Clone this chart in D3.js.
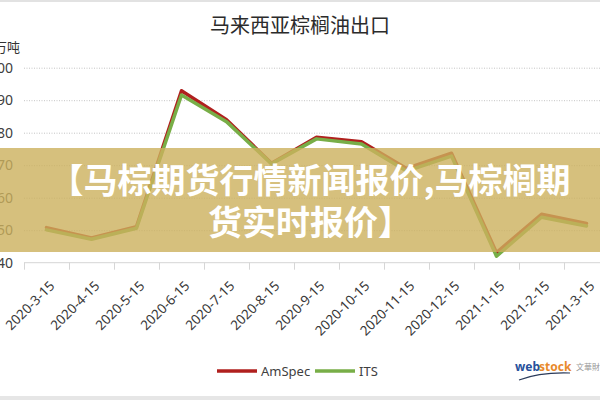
<!DOCTYPE html>
<html>
<head>
<meta charset="utf-8">
<script src="https://cdnjs.cloudflare.com/ajax/libs/d3/7.8.5/d3.min.js"></script>
<style>
  html, body { margin: 0; padding: 0; background: #fff; }
  svg { display: block; }
</style>
</head>
<body>
<svg id="chart" width="600" height="400"></svg>
<script>
const categories = ["2020-3-15","2020-4-15","2020-5-15","2020-6-15","2020-7-15","2020-8-15","2020-9-15","2020-10-15","2020-11-15","2020-12-15","2021-1-15","2021-2-15","2021-3-15"];
const amspec = [50.8, 47.6, 51.1, 92.9, 84.0, 70.6, 78.6, 77.2, 69.0, 73.7, 43.1, 54.9, 52.1];
const its    = [50.1, 47.2, 50.6, 91.6, 83.4, 70.4, 78.1, 76.5, 68.2, 72.8, 42.0, 54.0, 51.3];
const yTicks = [40, 50, 60, 70, 80, 90, 100];
const seriesNames = ["AmSpec", "ITS"];
const title = "马来西亚棕榈油出口";
const unit = "万吨";
const bannerLines = ["【马棕期货行情新闻报价,马棕榈期", "货实时报价】"];

const colors = {AmSpec: "#b0201e", ITS: "#78ae47"};
const svg = d3.select("#chart");
const font = "'Noto Sans', 'Liberation Sans', sans-serif";
const cjk = "'Noto Sans CJK SC', sans-serif";

const x0 = 24, bandW = 45;
const x = d3.scaleBand().domain(categories).range([x0, x0 + bandW * categories.length]).paddingInner(0).paddingOuter(0);
const xb = d3.scaleLinear().domain([0, categories.length]).range([x0, x0 + bandW * categories.length]);
const y = d3.scaleLinear().domain([40, 100]).range([262.7, 67.7]);

// frame lines
svg.append("rect").attr("x", 0).attr("y", 0).attr("width", 600).attr("height", 2).attr("fill", "#e2e2e2");
svg.append("rect").attr("x", 0).attr("y", 396).attr("width", 600).attr("height", 4).attr("fill", "#e6e6e6");

// title
svg.append("text").attr("x", 300).attr("y", 33).attr("text-anchor", "middle")
  .attr("font-family", cjk).attr("font-size", 20).attr("fill", "#2b2b2b").text(title);

// unit
svg.append("text").attr("x", 20).attr("y", 52).attr("text-anchor", "end")
  .attr("font-family", cjk).attr("font-size", 13).attr("fill", "#333").text(unit);

// gridlines
const grid = svg.append("g").attr("transform", `translate(${x0},0)`)
  .call(d3.axisLeft(y).tickValues(yTicks.filter(v => v > 40)).tickSize(-(600 - x0)).tickFormat(""));
grid.select(".domain").remove();
grid.selectAll("line").attr("stroke", "#c4c4c4").attr("stroke-dasharray", "1,1.5").attr("stroke-width", 1);

// y axis labels
const yAxis = svg.append("g").attr("transform", `translate(${x0},0)`)
  .call(d3.axisLeft(y).tickValues(yTicks).tickSize(0).tickPadding(11));
yAxis.select(".domain").remove();
yAxis.selectAll("text").attr("font-family", font).attr("font-size", 14).attr("fill", "#404040");

// x axis line + ticks between categories
const xTickAxis = svg.append("g").attr("transform", `translate(0,${y(40)})`)
  .call(d3.axisBottom(xb).tickValues(d3.range(0, categories.length + 1)).tickSize(7).tickFormat(""));
xTickAxis.select(".domain").attr("stroke", "#d6d6d6").attr("d", `M${x0},0H600`);
xTickAxis.selectAll("line").attr("stroke", "#d6d6d6");

// x labels
const xAxis = svg.append("g").attr("transform", `translate(0,${y(40)})`)
  .call(d3.axisBottom(x).tickSize(0));
xAxis.select(".domain").remove();
xAxis.selectAll("text")
  .attr("font-family", font).attr("font-size", 13.5).attr("fill", "#383838")
  .attr("x", 0).attr("y", 0).attr("dy", 0)
  .attr("text-anchor", "end")
  .attr("transform", "translate(9,24) rotate(-45)");

// lines
const cx = d => x(d) + x.bandwidth() / 2;
const line = d3.line().x((d, i) => cx(categories[i])).y(d => y(d));
[["AmSpec", amspec], ["ITS", its]].forEach(([name, vals]) => {
  svg.append("path").datum(vals).attr("d", line)
    .attr("fill", "none").attr("stroke", colors[name]).attr("stroke-width", 3.5)
    .attr("stroke-linejoin", "round").attr("stroke-linecap", "round");
});

// legend
const legend = svg.append("g");
const legendPos = [{lx: 217, tx: 261}, {lx: 315, tx: 359}];
seriesNames.forEach((name, i) => {
  legend.append("line").attr("x1", legendPos[i].lx).attr("x2", legendPos[i].lx + 40)
    .attr("y1", 371).attr("y2", 371).attr("stroke", colors[name]).attr("stroke-width", 3.5);
  legend.append("text").attr("x", legendPos[i].tx).attr("y", 376)
    .attr("font-family", font).attr("font-size", 13).attr("fill", "#404040").text(name);
});

// logo
const logo = svg.append("g");
logo.append("text").attr("x", 515).attr("y", 371).attr("font-family", font).attr("font-weight", 700)
  .attr("font-size", 12).attr("fill", "#27519c").text("web");
logo.append("text").attr("x", 539).attr("y", 371).attr("font-family", font).attr("font-weight", 700)
  .attr("font-size", 12).attr("fill", "#e8892b").text("stock");
logo.append("path").attr("d", "M519,380 Q540,372 570,373").attr("fill", "none").attr("stroke", "#2a3a5a").attr("stroke-width", 1.2);
logo.append("text").attr("x", 576).attr("y", 370).attr("font-family", cjk)
  .attr("font-size", 8).attr("fill", "#999").text("文華財");

// banner overlay
svg.append("rect").attr("x", 0).attr("y", 148).attr("width", 600).attr("height", 104)
  .attr("fill", "rgb(204,176,92)").attr("fill-opacity", 0.8);
bannerLines.forEach((t, i) => {
  svg.append("text").attr("x", 310).attr("y", 193 + i * 42).attr("text-anchor", "middle")
    .attr("font-family", cjk).attr("font-weight", 700).attr("font-size", 34)
    .attr("fill", "#fff").text(t);
});
</script>
</body>
</html>
